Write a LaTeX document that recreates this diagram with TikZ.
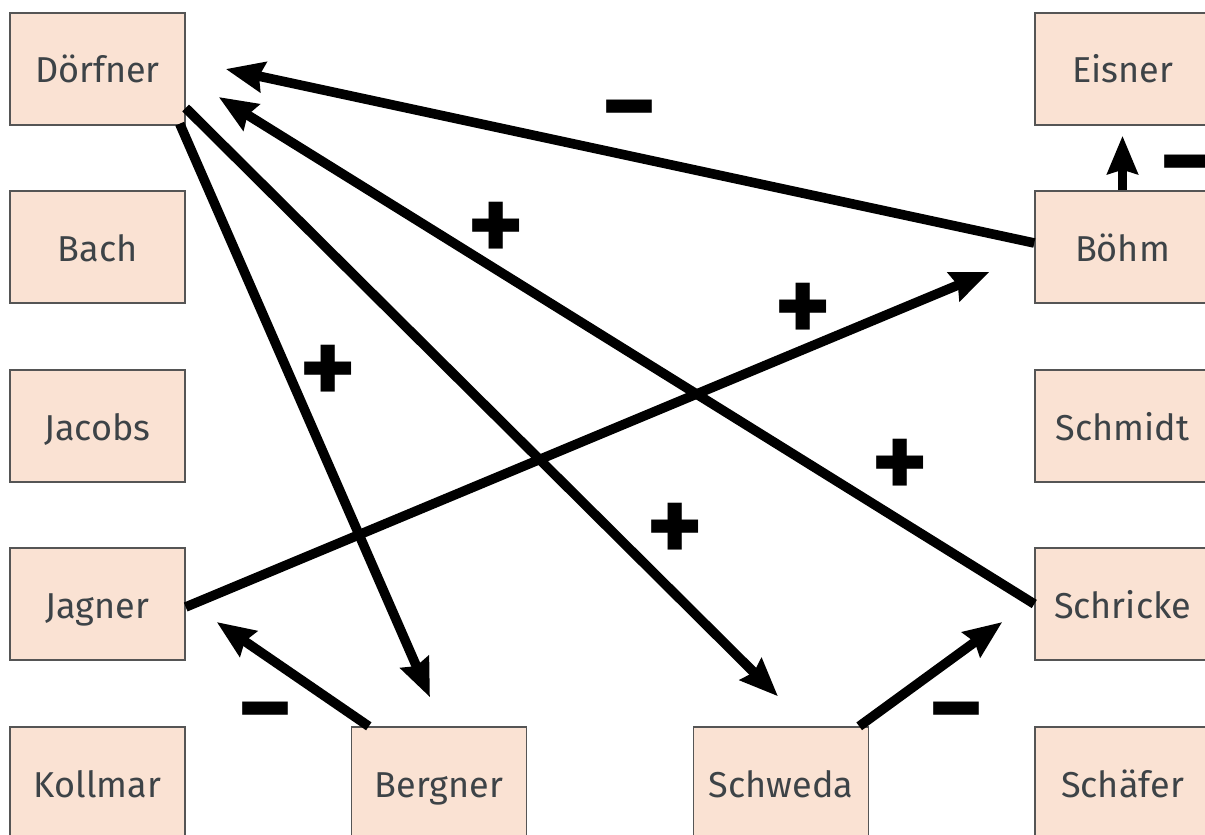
\documentclass[tikz,border=0pt]{standalone}
\usepackage{fontspec}
\setmainfont{Fira Sans}
\usetikzlibrary{arrows.meta,positioning}

\definecolor{peach}{RGB}{250,226,211}
\definecolor{inkgray}{RGB}{61,67,71}
\definecolor{framegray}{RGB}{85,85,85}

\begin{document}
\begin{tikzpicture}
[x=0.5pt,y=-0.5pt,
person/.style={rectangle,draw=framegray,fill=peach,line width=0.7pt,
  minimum width=87.5pt,minimum height=56pt,inner sep=0pt,
  text height=14pt,text depth=0pt,
  text=inkgray,font=\fontsize{18}{20}\selectfont},
rel/.style={line width=4.8pt,-{Stealth[length=19pt,width=15pt,inset=2pt]}},
sign/.style={font=\fontsize{54}{54}\selectfont\bfseries,inner sep=0pt},
plussign/.style={sign,yshift=-4pt},
minussign/.style={sign,yshift=-8pt}]
\useasboundingbox (0,0) rectangle (1205,835);
% left column
\node (doerfner) at (97.5,69) [person] {Dörfner};
\node (bach) at (97.5,247) [person] {Bach};
\node (jacobs) at (97.5,426) [person] {Jacobs};
\node (jagner) at (97.5,604) [person] {Jagner};
\node (kollmar) at (97.5,783) [person] {Kollmar};
% bottom row
\node (bergner) at (439,783) [person] {Bergner};
\node (schweda) at (781,783) [person] {Schweda};
% right column
\node (eisner) at (1122.5,69) [person] {Eisner};
\node (boehm) at (1122.5,247) [person] {Böhm};
\node (schmidt) at (1122.5,426) [person] {Schmidt};
\node (schricke) at (1122.5,604) [person] {Schricke};
\node (schaefer) at (1122.5,783) [person] {Schäfer};
% relations
\draw[rel] ([yshift=2pt]boehm.west) -- ([xshift=20pt]doerfner.east);
\draw[rel] (schricke.west) -- ([xshift=16.5pt,yshift=-14pt]doerfner.east);
\draw[rel] ([xshift=-3pt,yshift=1pt]doerfner.south east) -- ([xshift=-4.5pt,yshift=14.5pt]bergner.north);
\draw[rel] ([yshift=-19.5pt]doerfner.east) -- ([xshift=-1.5pt,yshift=15pt]schweda.north);
\draw[rel] ([yshift=-1.5pt]jagner.east) -- ([xshift=-22.5pt,yshift=-12.5pt]boehm.west);
\draw[rel] ([xshift=9pt]bergner.north west) -- ([xshift=15.5pt,yshift=-9pt]jagner.east);
\draw[rel] ([xshift=-5pt]schweda.north east) -- ([xshift=-16pt,yshift=-9pt]schricke.west);
\draw[rel] (boehm.north) -- ([yshift=-5pt]eisner.south);
% signs
\node (s1) at (629.5,105.5) [minussign] {−};
\node (s2) at (496,224) [plussign] {+};
\node (s3) at (328.5,366.5) [plussign] {+};
\node (s4) at (803.5,304.5) [plussign] {+};
\node (s5) at (900,460.5) [plussign] {+};
\node (s6) at (675,525) [plussign] {+};
\node (s7) at (265.5,707) [minussign] {−};
\node (s8) at (957,707) [minussign] {−};
\node (s9) at (1188,160) [minussign] {−};
\end{tikzpicture}
\end{document}
